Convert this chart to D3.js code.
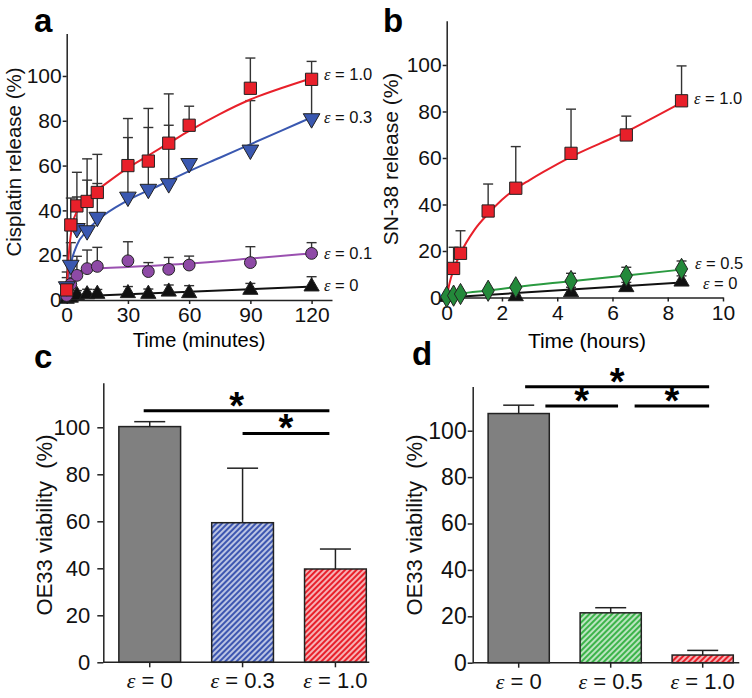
<!DOCTYPE html>
<html><head><meta charset="utf-8">
<script src="https://cdn.jsdelivr.net/npm/d3@7"></script>
<style>
body{margin:0;background:#fff;}
svg{display:block;font-family:"Liberation Sans",Arial,sans-serif;}
.eps{font-family:"Liberation Serif","Times New Roman",serif;font-style:italic;}
</style></head>
<body>
<svg id="chart" width="752" height="698"></svg>
<script>
// ---------- Panel a: cisplatin release ----------
const aTimes = [0, 2, 5, 10, 15, 30, 40, 50, 60, 90, 120];
const aRed = [4.5, 33.5, 42, 44, 48, 60, 62, 70, 78, 94.5, 98.5];
const aRedErr = [8, 12, 15, 19, 17, 21, 23.5, 22, 8.5, 13.5, 8];
const aBlue = [6, 15.6, 32, 31, 37, 46, 49.5, 52, 61, 67, 81];
const aBlueErr = [4, 10, 14, 22.5, 15, 26.5, 27.5, 26, 1.5, 22, 16];
const aPurple = [2, 7, 11, 14, 15, 17.5, 12.7, 13.7, 15.6, 16.7, 20.8];
const aPurpleErr = [1, 2, 8.5, 8.3, 8.5, 8.5, 4, 5.3, 4, 7.1, 4.8];
const aBlack = [0.5, 1, 2.2, 2.5, 2.7, 3, 2.7, 3.7, 3, 4.5, 6];
const aBlackErr = [0.5, 1, 2, 2.3, 2, 3, 2.2, 3, 3.4, 2.9, 4.4];
const aRedFit = [[0,0],[0.5,12],[1,20],[2,29],[3,34.5],[5,39.5],[10,45],[15,49],[20,52.5],[30,59],[40,64.5],[50,70],[60,75.5],[75,83],[90,89.5],[105,94.5],[120,99]];
const aBlueFit = [[0,0],[0.5,7],[1,11],[2,16],[5,24.5],[10,31],[15,35.5],[30,44.5],[45,51],[60,57.5],[75,63.5],[90,69.5],[105,75.5],[120,81.5]];
const aPurpleFit = [[0,0],[1,6],[2,9],[5,12.3],[10,13.6],[15,14],[30,14.7],[60,16.3],[90,18.5],[120,20.8]];
const aBlackFit = [[0,1.5],[60,3.7],[120,6]];
const aXTicks = [0, 30, 60, 90, 120];
const yTicks = [0, 20, 40, 60, 80, 100];

// ---------- Panel b: SN-38 release ----------
const bRedTimes = [0.25, 0.5, 1.5, 2.5, 4.5, 6.5, 8.5];
const bRed = [12.5, 19, 37.2, 47, 62, 69.9, 84.6];
const bRedErr = [9.1, 9.7, 11.6, 17.9, 19, 8.1, 15];
const bGreenTimes = [0, 0.25, 0.5, 1.5, 2.5, 4.5, 6.5, 8.5];
const bGreen = [0.3, 0.8, 1.5, 2.9, 4.4, 7.1, 9.4, 12.3];
const bGreenErr = [0.3, 0.5, 0.5, 0.8, 1.2, 3.3, 3.6, 3.4];
const bBlackTimes = [0, 2.5, 4.5, 6.5, 8.5];
const bBlack = [0.2, 0.5, 2.2, 4.4, 6.8];
const bBlackErr = [0.2, 0.5, 2.2, 2.1, 2.5];
const bRedFit = [[0,0],[0.1,6],[0.25,12],[0.5,19],[1,29],[1.5,36],[2,42],[2.5,46.8],[3,50.5],[3.5,54],[4.5,60.5],[5.5,66],[6.5,71.3],[7.5,77.5],[8.5,83.8]];
const bGreenFit = [[0,0],[0.25,1],[0.5,1.6],[1.5,3],[2.5,4.5],[4.5,7],[6.5,9.5],[8.5,12]];
const bBlackFit = [[0,0],[8.5,6.5]];
const bXTicks = [0, 2, 4, 6, 8, 10];

// ---------- Panel c: OE33 viability (cisplatin) ----------
const cCats = ["0", "0.3", "1.0"];
const cVals = [100.3, 59.4, 39.7];
const cErr = [2.1, 23.2, 8.5];
const cFills = ["gray", "blueHatch", "redHatch"];
// [start, end (in category-step units from first bar centre), value]
const cSig = [[-0.065, 1.935, 107], [1.0, 1.935, 97.4]];

// ---------- Panel d: OE33 viability (SN-38) ----------
const dCats = ["0", "0.5", "1.0"];
const dVals = [107.4, 21.5, 3.3];
const dErr = [3.6, 2.2, 2.0];
const dFills = ["gray", "greenHatch", "redHatch"];
const dSig = [[0.07, 2.07, 118.9], [0.29, 1.08, 110.6], [1.26, 2.07, 110.6]];

const svg = d3.select("#chart");
const defs = svg.append("defs");
function hatch(id, base) {
  const p = defs.append("pattern").attr("id", id).attr("patternUnits", "userSpaceOnUse")
    .attr("width", 4).attr("height", 4).attr("patternTransform", "rotate(45)");
  p.append("rect").attr("width", 4).attr("height", 4).attr("fill", base);
  p.append("line").attr("x1", 1).attr("x2", 1).attr("y1", 0).attr("y2", 4)
    .attr("stroke", "#fff").attr("stroke-width", 1.3);
}
hatch("blueHatch", "#3d56b0");
hatch("redHatch", "#e8202a");
hatch("greenHatch", "#3cb44a");
const fillMap = {gray: "#808080", blueHatch: "url(#blueHatch)", redHatch: "url(#redHatch)", greenHatch: "url(#greenHatch)"};

const AX = "#222";
function styleAxis(g, fs) {
  g.selectAll("path.domain").attr("stroke", AX).attr("stroke-width", 1.5);
  g.selectAll(".tick line").attr("stroke", AX).attr("stroke-width", 1.5);
  g.selectAll("text").attr("font-size", fs).attr("fill", "#111")
    .attr("font-family", "Liberation Sans, Arial, sans-serif");
}
function panelLetter(t, x, y) {
  svg.append("text").attr("x", x).attr("y", y).attr("font-size", 33).attr("font-weight", "bold").text(t);
}
function epsLabel(g, x, y, val, fs) {
  const t = g.append("text").attr("x", x).attr("y", y).attr("font-size", fs).attr("fill", "#111");
  t.append("tspan").attr("class", "eps").text("ε");
  t.append("tspan").text(" = " + val);
  return t;
}
function yTitle(text, cx, cy, fs) {
  svg.append("text").attr("transform", `translate(${cx},${cy}) rotate(-90)`)
    .attr("text-anchor", "middle").attr("font-size", fs).attr("fill", "#111")
    .style("white-space", "pre").text(text);
}

function drawSeries(g, x, y, times, vals, errs, sym, size, fill, rot) {
  const eg = g.append("g");
  times.forEach((t, i) => {
    const cx = x(t), y0 = y(vals[i]), y1 = y(vals[i] + errs[i]);
    eg.append("line").attr("x1", cx).attr("x2", cx).attr("y1", y0).attr("y2", y1).attr("stroke", "#333").attr("stroke-width", 1.4);
    eg.append("line").attr("x1", cx - 5).attr("x2", cx + 5).attr("y1", y1).attr("y2", y1).attr("stroke", "#333").attr("stroke-width", 1.4);
  });
  return {times, vals, sym, size, fill, rot};
}
function drawMarkers(g, x, y, s) {
  const gen = d3.symbol().type(s.sym).size(s.size);
  g.append("g").selectAll("path").data(s.times).join("path")
    .attr("d", gen)
    .attr("transform", (t, i) => `translate(${x(t)},${y(s.vals[i])}) rotate(${s.rot || 0})`)
    .attr("fill", s.fill).attr("stroke", "#222").attr("stroke-width", 1);
}
function drawFit(g, x, y, pts, color) {
  g.append("path").datum(pts)
    .attr("d", d3.line().x(d => x(d[0])).y(d => y(d[1])).curve(d3.curveMonotoneX))
    .attr("fill", "none").attr("stroke", color).attr("stroke-width", 2);
}

// ===== Panel a =====
{
  const x = d3.scaleLinear().domain([0, 130]).range([66.7, 332]);
  const y = d3.scaleLinear().domain([0, 119]).range([300, 33.4]);
  const g = svg.append("g");
  g.append("g").attr("transform", "translate(0,300)")
    .call(d3.axisBottom(x).tickValues(aXTicks).tickSize(4).tickPadding(3).tickSizeOuter(0))
    .call(a => styleAxis(a, 21));
  g.append("g").attr("transform", "translate(66.7,0)")
    .call(d3.axisLeft(y).tickValues(yTicks).tickSize(4).tickPadding(1).tickSizeOuter(0))
    .call(a => styleAxis(a, 21));
  const sBlack = drawSeries(g, x, y, aTimes, aBlack, aBlackErr, d3.symbolTriangle, 100, "#111", 0);
  const sPurple = drawSeries(g, x, y, aTimes, aPurple, aPurpleErr, d3.symbolCircle, 110, "#8e4aa6", 0);
  const sBlue = drawSeries(g, x, y, aTimes, aBlue, aBlueErr, d3.symbolTriangle, 120, "#3a58b0", 180);
  const sRed = drawSeries(g, x, y, aTimes, aRed, aRedErr, d3.symbolSquare, 150, "#e8202a", 0);
  drawFit(g, x, y, aBlackFit, "#111");
  drawFit(g, x, y, aPurpleFit, "#9a50b0");
  drawFit(g, x, y, aBlueFit, "#3a58b0");
  drawFit(g, x, y, aRedFit, "#e8202a");
  [sBlack, sPurple, sBlue, sRed].forEach(s => drawMarkers(g, x, y, s));
  epsLabel(g, 324, 80, "1.0", 16.5);
  epsLabel(g, 324, 123, "0.3", 16.5);
  epsLabel(g, 324, 259, "0.1", 16.5);
  epsLabel(g, 324, 291, "0", 16.5);
  svg.append("text").attr("x", 199).attr("y", 347).attr("text-anchor", "middle").attr("font-size", 20).text("Time (minutes)");
  yTitle("Cisplatin release (%)", 21, 162, 20.5);
  panelLetter("a", 34, 32);
}

// ===== Panel b =====
{
  const x = d3.scaleLinear().domain([0, 10]).range([446.7, 723]);
  const y = d3.scaleLinear().domain([0, 119]).range([297.5, 20.8]);
  const g = svg.append("g");
  g.append("g").attr("transform", "translate(0,297.5)")
    .call(d3.axisBottom(x).tickValues(bXTicks).tickSize(4).tickPadding(4).tickSizeOuter(0))
    .call(a => styleAxis(a, 21));
  g.append("g").attr("transform", "translate(446.7,0)")
    .call(d3.axisLeft(y).tickValues(yTicks).tickSize(4).tickPadding(1).tickSizeOuter(0))
    .call(a => styleAxis(a, 21));
  const sBlack = drawSeries(g, x, y, bBlackTimes, bBlack, bBlackErr, d3.symbolTriangle, 100, "#111", 0);
  const sGreen = drawSeries(g, x, y, bGreenTimes, bGreen, bGreenErr, d3.symbolDiamond, 130, "#23893a", 0);
  const sRed = drawSeries(g, x, y, bRedTimes, bRed, bRedErr, d3.symbolSquare, 150, "#e8202a", 0);
  drawFit(g, x, y, bBlackFit, "#111");
  drawFit(g, x, y, bGreenFit, "#2a9a40");
  drawFit(g, x, y, bRedFit, "#e8202a");
  [sBlack, sGreen, sRed].forEach(s => drawMarkers(g, x, y, s));
  epsLabel(g, 694, 104, "1.0", 16.5);
  epsLabel(g, 695, 269, "0.5", 16.5);
  epsLabel(g, 703, 289, "0", 16.5);
  svg.append("text").attr("x", 587).attr("y", 348).attr("text-anchor", "middle").attr("font-size", 21).text("Time (hours)");
  yTitle("SN-38 release (%)", 398, 159, 21);
  panelLetter("b", 383, 32);
}

// ===== Bar panels =====
function barPanel(cats, vals, errs, fills, sig, o) {
  const x = d3.scaleBand().domain(cats).range([o.x0, o.x0 + 3 * o.step]).paddingInner(0.335).paddingOuter(0.1675);
  const y = d3.scaleLinear().domain([0, 119]).range([o.y0, o.y0 - 119 * o.k]);
  const g = svg.append("g");
  const bw = x.bandwidth();
  cats.forEach((c, i) => {
    const cx = x(c) + bw / 2, y1 = y(vals[i] + errs[i]);
    g.append("line").attr("x1", cx).attr("x2", cx).attr("y1", y(vals[i])).attr("y2", y1).attr("stroke", "#222").attr("stroke-width", 1.5);
    g.append("line").attr("x1", cx - 15.5).attr("x2", cx + 15.5).attr("y1", y1).attr("y2", y1).attr("stroke", "#222").attr("stroke-width", 1.5);
  });
  g.selectAll("rect.bar").data(cats).join("rect").attr("class", "bar")
    .attr("x", c => x(c)).attr("width", bw)
    .attr("y", (c, i) => y(vals[i])).attr("height", (c, i) => y(0) - y(vals[i]))
    .attr("fill", (c, i) => fillMap[fills[i]]).attr("stroke", "#222").attr("stroke-width", 1.5);
  const xa = g.append("g").attr("transform", `translate(0,${o.y0})`)
    .call(d3.axisBottom(x).tickSize(5).tickPadding(5).tickFormat(() => "").tickSizeOuter(0));
  xa.select("path.domain").remove();
  styleAxis(xa, o.fs);
  g.append("line").attr("x1", o.x0).attr("x2", o.xEnd).attr("y1", o.y0).attr("y2", o.y0).attr("stroke", AX).attr("stroke-width", 1.5);
  cats.forEach(c => epsLabel(g, x(c) + bw / 2, o.y0 + 26, c, o.lfs).attr("text-anchor", "middle"));
  g.append("g").attr("transform", `translate(${o.x0},0)`)
    .call(d3.axisLeft(y).tickValues(yTicks).tickSize(o.ts).tickPadding(o.tp).tickSizeOuter(0))
    .call(a => styleAxis(a, o.fs));
  const c0 = x(cats[0]) + bw / 2, st = x.step();
  sig.forEach(s => {
    const x1 = c0 + s[0] * st, x2 = c0 + s[1] * st, yy = y(s[2]);
    g.append("line").attr("x1", x1).attr("x2", x2).attr("y1", yy).attr("y2", yy).attr("stroke", "#000").attr("stroke-width", 3);
    g.append("text").attr("x", (x1 + x2) / 2).attr("y", yy + 8).attr("text-anchor", "middle")
      .attr("font-size", 38).attr("font-weight", "bold").text("*");
  });
}
barPanel(cCats, cVals, cErr, cFills, cSig, {x0: 103.3, step: 92.85, xEnd: 369.3, y0: 662.3, k: 2.35, fs: 22, lfs: 22, ts: 6, tp: 7});
barPanel(dCats, dVals, dErr, dFills, dSig, {x0: 472.7, step: 92, xEnd: 739.3, y0: 662.7, k: 2.32, fs: 23, lfs: 22, ts: 5, tp: 1});
yTitle("OE33 viability  (%)", 52, 525, 22);
yTitle("OE33 viability  (%)", 422, 525, 22);
panelLetter("c", 34, 368);
panelLetter("d", 412, 365);
</script>
</body></html>
